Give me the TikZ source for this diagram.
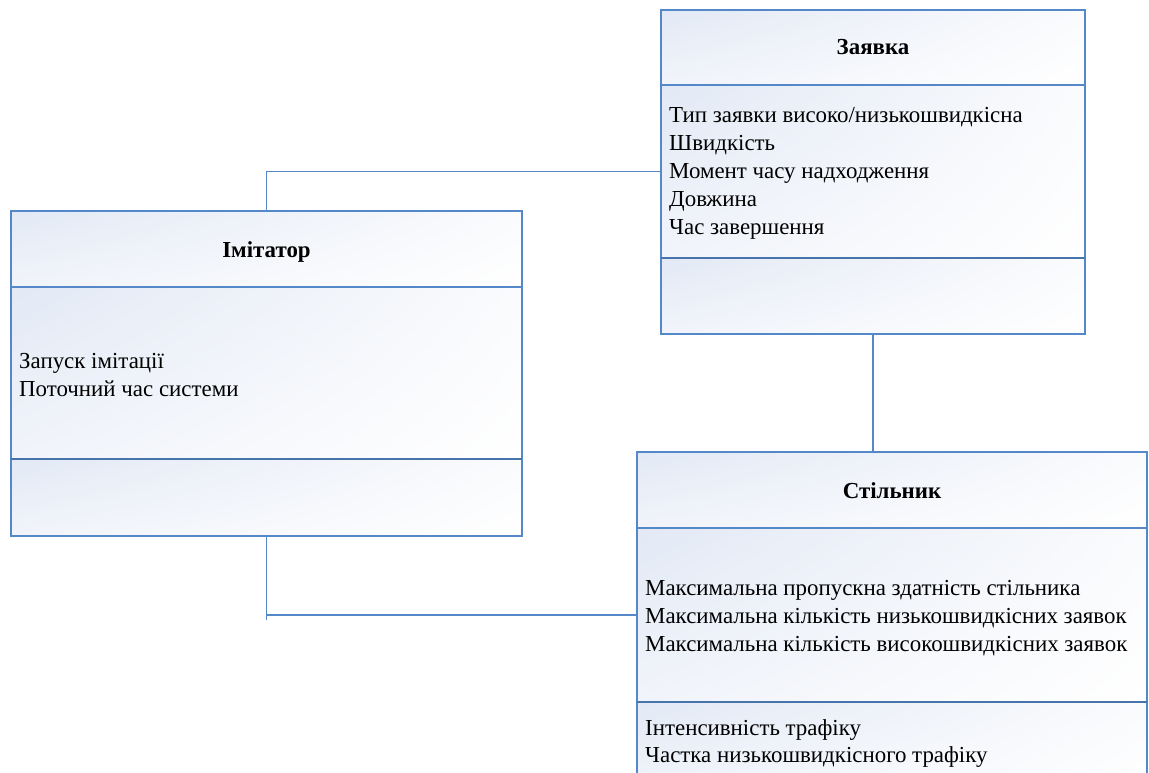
\documentclass[tikz,border=0pt]{standalone}
\usepackage{fontspec}
\setmainfont{Liberation Serif}
\usetikzlibrary{calc,shadings}
\definecolor{umlblue}{RGB}{84,136,200}
\definecolor{shtl}{RGB}{226,233,245}
\definecolor{shbl}{RGB}{241,244,250}
\definecolor{shtr}{RGB}{250,251,253}
\tikzset{
  comp/.style={rectangle, draw=umlblue, line width=1.5pt, shade,
    upper left=shtl, lower left=shbl, upper right=shtr, lower right=white,
    inner sep=0pt, outer sep=0pt, anchor=north west},
  thicksep/.style={draw=umlblue!85!black, line width=2.6pt},
  conn/.style={draw=umlblue, line width=1.5pt},
  ttl/.style={font=\fontsize{22.9}{27}\selectfont\bfseries, anchor=base, inner sep=0pt},
  attr/.style={font=\fontsize{22.9}{27}\selectfont, anchor=base west, inner sep=0pt}
}
\begin{document}
\begin{tikzpicture}[x=1pt,y=-1pt]
\useasboundingbox (0,0) rectangle (1149,773);
\clip (0,0) rectangle (1149,773);
% Zaiavka
\node[comp, minimum width=424pt, minimum height=75pt] (zt) at (661,10) {};
\node[comp, minimum width=424pt, minimum height=173pt] (za) at (661,85) {};
\node[comp, minimum width=424pt, minimum height=76pt] (zo) at (661,258) {};
\draw[thicksep] (za.south west) -- (za.south east);
% Imitator
\node[comp, minimum width=511pt, minimum height=76pt] (it) at (11,211) {};
\node[comp, minimum width=511pt, minimum height=172pt] (ia) at (11,287) {};
\node[comp, minimum width=511pt, minimum height=77pt] (io) at (11,459) {};
\draw[thicksep] (ia.south west) -- (ia.south east);
% Stilnyk
\node[comp, minimum width=510pt, minimum height=76pt] (st) at (637,452) {};
\node[comp, minimum width=510pt, minimum height=174pt] (sa) at (637,528) {};
\node[comp, minimum width=510pt, minimum height=90pt] (so) at (637,702) {};
\draw[thicksep] (sa.south west) -- (sa.south east);
% titles
\node[ttl] (ztt) at (873,55) {Заявка};
\node[ttl] (itt) at (266.5,257) {Імітатор};
\node[ttl] (stt) at (892,498) {Стільник};
% attributes
\node[attr] (z1) at (669,123) {Тип заявки високо/низькошвидкісна};
\node[attr] (z2) at (669,151) {Швидкість};
\node[attr] (z3) at (669,178.5) {Момент часу надходження};
\node[attr] (z4) at (669,206) {Довжина};
\node[attr] (z5) at (669,234) {Час завершення};
\node[attr] (i1) at (19,368) {Запуск імітації};
\node[attr] (i2) at (19,396) {Поточний час системи};
\node[attr] (s1) at (645,595) {Максимальна пропускна здатність стільника};
\node[attr] (s2) at (645,623) {Максимальна кількість низькошвидкісних заявок};
\node[attr] (s3) at (645,651) {Максимальна кількість високошвидкісних заявок};
\node[attr] (s4) at (645,735) {Інтенсивність трафіку};
\node[attr] (s5) at (645,762.5) {Частка низькошвидкісного трафіку};
% connectors
\draw[conn] (it.north) |- (za.west);
\draw[conn] (zo.south) -- (zo.south |- st.north);
\coordinate (tail) at ($(io.south |- sa.west)+(0,5)$);
\draw[conn] (io.south) -- (tail);
\draw[conn] (io.south |- sa.west) -- (sa.west);
\end{tikzpicture}
\end{document}
